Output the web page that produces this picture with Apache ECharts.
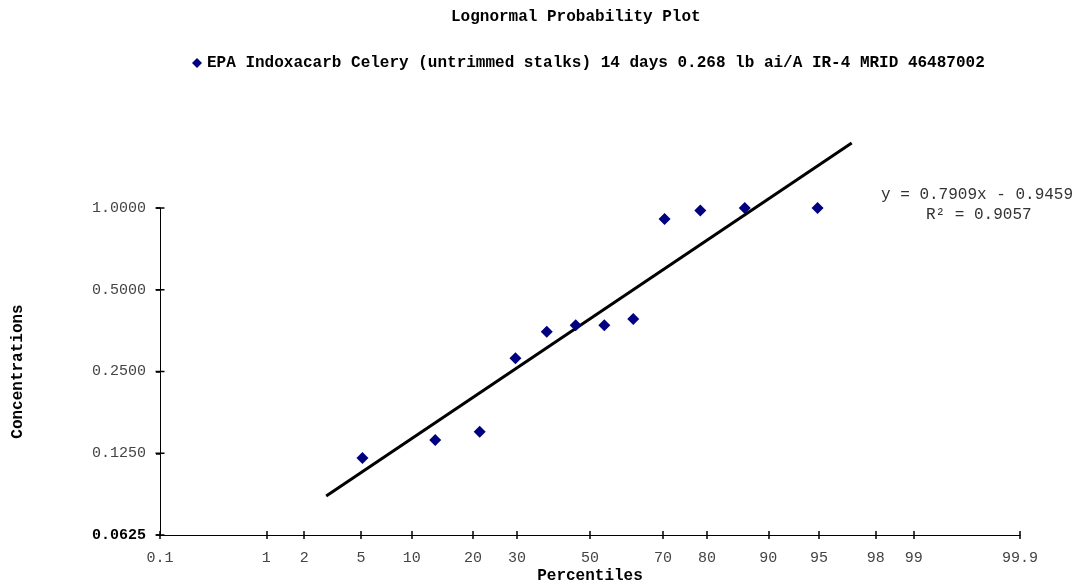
<!DOCTYPE html>
<html>
<head>
<meta charset="utf-8">
<script src="https://cdn.jsdelivr.net/npm/echarts@6/dist/echarts.min.js"></script>
<style>
html,body{margin:0;padding:0;background:#fff;}
#chart{width:1073px;height:582px;}
</style>
</head>
<body>
<div id="chart"></div>
<script>
// ---- data ----
const percentiles = [5.1, 13.3, 21.4, 29.6, 37.8, 45.9, 54.1, 62.2, 70.4, 78.6, 86.7, 94.9];
const concentrations = [0.12, 0.14, 0.15, 0.28, 0.35, 0.37, 0.37, 0.39, 0.91, 0.98, 1.0, 1.0];
const trendPercentiles = [2.9, 97.0];
const trendConcentrations = [0.087, 1.735];
const xTickLabels = [0.1, 1, 2, 5, 10, 20, 30, 50, 70, 80, 90, 95, 98, 99, 99.9];
const yTickLabels = [0.0625, 0.125, 0.25, 0.5, 1.0];
const seriesName = 'EPA Indoxacarb Celery (untrimmed stalks) 14 days 0.268 lb ai/A IR-4 MRID 46487002';
const equationText = 'y = 0.7909x - 0.9459';
const r2Text = 'R\u00B2 = 0.9057';

// probability (normal quantile) scale transform
function probit(p) {
  const a=[-3.969683028665376e+01,2.209460984245205e+02,-2.759285104469687e+02,1.383577518672690e+02,-3.066479806614716e+01,2.506628277459239e+00];
  const b=[-5.447609879822406e+01,1.615858368580409e+02,-1.556989798598866e+02,6.680131188771972e+01,-1.328068155288572e+01];
  const c=[-7.784894002430293e-03,-3.223964580411365e-01,-2.400758277161838e+00,-2.549671010243670e+00,4.374664141464968e+00,2.938163982698783e+00];
  const d=[7.784695709041462e-03,3.224671290700398e-01,2.445134137142996e+00,3.754408661907416e+00];
  const pl=0.02425, ph=1-pl;
  let q,r;
  if(p<pl){q=Math.sqrt(-2*Math.log(p));return (((((c[0]*q+c[1])*q+c[2])*q+c[3])*q+c[4])*q+c[5])/((((d[0]*q+d[1])*q+d[2])*q+d[3])*q+1);}
  if(p<=ph){q=p-0.5;r=q*q;return (((((a[0]*r+a[1])*r+a[2])*r+a[3])*r+a[4])*r+a[5])*q/(((((b[0]*r+b[1])*r+b[2])*r+b[3])*r+b[4])*r+1);}
  q=Math.sqrt(-2*Math.log(1-p));return -(((((c[0]*q+c[1])*q+c[2])*q+c[3])*q+c[4])*q+c[5])/((((d[0]*q+d[1])*q+d[2])*q+d[3])*q+1);
}
const z = pc => probit(pc/100);
const xTickZ = xTickLabels.map(z);
const zMin = xTickZ[0], zMax = xTickZ[xTickZ.length-1];

const FONT = '"Liberation Mono","Courier New",monospace';
const chart = echarts.init(document.getElementById('chart'));

function xFmt(v){
  let best=0, bd=1e9;
  xTickZ.forEach((t,i)=>{const dd=Math.abs(t-v); if(dd<bd){bd=dd;best=i;}});
  return String(xTickLabels[best]);
}
const xAxisBase = {
  type:'value', min:zMin, max:zMax, position:'bottom', gridIndex:0,
  axisLine:{show:true,onZero:false,lineStyle:{color:'#000',width:1}},
  splitLine:{show:false}
};

chart.setOption({
  animation:false,
  backgroundColor:'#fff',
  title:{
    text:'Lognormal Probability Plot', left:446, top:4,
    textStyle:{fontFamily:FONT,fontSize:16,fontWeight:'bold',color:'#000'}
  },
  legend:{
    data:[{name:seriesName, icon:'diamond', itemStyle:{color:'#000080',opacity:1}}],
    left:187, top:50, itemWidth:10, itemHeight:10, itemGap:5,
    textStyle:{fontFamily:FONT,fontSize:16,fontWeight:'bold',color:'#000'}
  },
  grid:{left:160, right:53, top:208, bottom:47, containLabel:false, outerBoundsMode:'none'},
  xAxis:[
    Object.assign({}, xAxisBase, {
      name:'Percentiles', nameLocation:'middle', nameGap:33, nameMoveOverlap:false,
      nameTextStyle:{fontFamily:FONT,fontSize:16,fontWeight:'bold',color:'#000'},
      axisTick:{show:true, inside:false, length:4, customValues:xTickZ, lineStyle:{color:'#000',width:1.5}},
      axisLabel:{show:true, customValues:xTickZ, formatter:xFmt, margin:16,
        fontFamily:FONT, fontSize:15, color:'#444'}
    }),
    Object.assign({}, xAxisBase, {
      axisTick:{show:true, inside:true, length:4, customValues:xTickZ, lineStyle:{color:'#000',width:1.5}},
      axisLabel:{show:false}
    })
  ],
  yAxis:[
    {
      type:'log', logBase:2, min:yTickLabels[0], max:yTickLabels[yTickLabels.length-1], position:'left',
      axisLine:{show:true,onZero:false,lineStyle:{color:'#000',width:1}},
      splitLine:{show:false},
      name:'Concentrations', nameLocation:'middle', nameGap:134, nameRotate:90, nameMoveOverlap:false,
      nameTextStyle:{fontFamily:FONT,fontSize:16,fontWeight:'bold',color:'#000'},
      axisTick:{show:true, inside:false, length:4, lineStyle:{color:'#000',width:1.5}},
      axisLabel:{show:true, margin:14, fontFamily:FONT, fontSize:15, color:'#444',
        formatter:function(v){
          const s = Number(v).toFixed(4);
          return Math.abs(v-yTickLabels[0])<1e-9 ? '{b|'+s+'}' : s;
        },
        rich:{b:{fontFamily:FONT,fontSize:15,fontWeight:'bold',color:'#000'}}
      }
    }
  ],
  series:[
    {
      name:seriesName, type:'scatter', xAxisIndex:0, yAxisIndex:0,
      symbol:'diamond', symbolSize:12,
      itemStyle:{color:'#000080',opacity:1},
      data:percentiles.map((p,i)=>[z(p), concentrations[i]]),
      z:3
    },
    {
      name:'trend', type:'line', xAxisIndex:0, yAxisIndex:0,
      clip:false, showSymbol:false, symbol:'none',
      lineStyle:{color:'#000',width:3},
      data:trendPercentiles.map((p,i)=>[z(p), trendConcentrations[i]]),
      z:2
    },
    {
      name:'yTickMarks', type:'scatter', xAxisIndex:0, yAxisIndex:0,
      symbol:'rect', symbolSize:[9,1.5], silent:true, clip:false,
      itemStyle:{color:'#000',opacity:1},
      data:yTickLabels.map(v=>[zMin, v]),
      z:4
    }
  ],
  graphic:[
    {
      type:'text', left:881, top:187,
      style:{text:equationText, fontFamily:FONT, fontSize:16, fill:'#333'}
    },
    {
      type:'text', left:926, top:207,
      style:{text:r2Text, fontFamily:FONT, fontSize:16, fill:'#333'}
    }
  ]
});
</script>
</body>
</html>
